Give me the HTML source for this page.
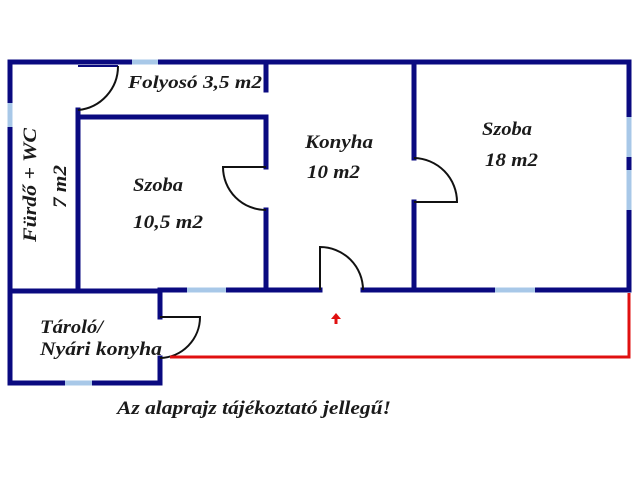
<!DOCTYPE html>
<html><head><meta charset="utf-8"><style>
html,body{margin:0;padding:0;background:#fff;width:640px;height:480px;overflow:hidden}
text{font-family:"Liberation Serif",serif;font-weight:bold;font-style:italic;fill:#1a1a1a}
</style></head><body>
<svg width="640" height="480" viewBox="0 0 640 480" xmlns="http://www.w3.org/2000/svg">
<g stroke="#0a0a80" stroke-width="5" fill="none" stroke-linecap="square">
<line x1="10" y1="62" x2="629" y2="62"/>
<line x1="10" y1="62" x2="10" y2="383"/>
<line x1="629" y1="62" x2="629" y2="290"/>
<line x1="10" y1="383" x2="160" y2="383"/>
<line x1="160" y1="358" x2="160" y2="383"/>
<line x1="160" y1="290" x2="160" y2="317"/>
<line x1="10" y1="291" x2="160" y2="291"/>
<line x1="160" y1="290" x2="320" y2="290"/>
<line x1="363" y1="290" x2="629" y2="290"/>
<line x1="78" y1="110" x2="78" y2="290"/>
<line x1="78" y1="117" x2="266" y2="117"/>
<line x1="266" y1="62" x2="266" y2="90"/>
<line x1="266" y1="117" x2="266" y2="167"/>
<line x1="266" y1="210" x2="266" y2="290"/>
<line x1="414" y1="62" x2="414" y2="158"/>
<line x1="414" y1="202" x2="414" y2="290"/>
</g>
<g stroke="#0a0a80" stroke-width="2">
<line x1="78" y1="66" x2="118" y2="66"/>
</g>
<g stroke="#a8c8e8" stroke-width="5">
<line x1="132" y1="62" x2="158" y2="62"/>
<line x1="10" y1="103" x2="10" y2="127"/>
<line x1="65" y1="383" x2="92" y2="383"/>
<line x1="187" y1="290" x2="226" y2="290"/>
<line x1="495" y1="290" x2="535" y2="290"/>
<line x1="629" y1="117" x2="629" y2="157"/>
<line x1="629" y1="170" x2="629" y2="210"/>
</g>
<g stroke="#111" stroke-width="2" fill="none">
<path d="M118 66 A44 44 0 0 1 78 110"/>
<path d="M266 167 L223 167 A43 43 0 0 0 266 210"/>
<path d="M414 158 A44 44 0 0 1 457 202 L414 202"/>
<path d="M320 290 L320 247 A43 43 0 0 1 363 290"/>
<path d="M160 317 L200 317 A41 41 0 0 1 160 358"/>
</g>
<polyline points="170,357 629,357 629,293" stroke="#e01010" stroke-width="3" fill="none"/>
<path d="M336 313 L331 319 L334.5 319 L334.5 324 L337.5 324 L337.5 319 L341 319 Z" fill="#e01010"/>
<text x="128" y="88" font-size="18" textLength="134" lengthAdjust="spacingAndGlyphs">Folyosó 3,5 m2</text>
<text x="133" y="191" font-size="19" textLength="50" lengthAdjust="spacingAndGlyphs">Szoba</text>
<text x="133" y="228" font-size="19" textLength="70" lengthAdjust="spacingAndGlyphs">10,5 m2</text>
<text x="305" y="148" font-size="19" textLength="68" lengthAdjust="spacingAndGlyphs">Konyha</text>
<text x="307" y="178" font-size="19" textLength="53" lengthAdjust="spacingAndGlyphs">10 m2</text>
<text x="482" y="135" font-size="19" textLength="50" lengthAdjust="spacingAndGlyphs">Szoba</text>
<text x="485" y="166" font-size="19" textLength="53" lengthAdjust="spacingAndGlyphs">18 m2</text>
<text transform="translate(36,242) rotate(-90)" font-size="19" textLength="114" lengthAdjust="spacingAndGlyphs">Fürdő + WC</text>
<text transform="translate(66,208) rotate(-90)" font-size="19" textLength="43" lengthAdjust="spacingAndGlyphs">7 m2</text>
<text x="40" y="333" font-size="19" textLength="63" lengthAdjust="spacingAndGlyphs">Tároló/</text>
<text x="40" y="355" font-size="19" textLength="122" lengthAdjust="spacingAndGlyphs">Nyári konyha</text>
<text x="117" y="414" font-size="19" textLength="274" lengthAdjust="spacingAndGlyphs">Az alaprajz tájékoztató jellegű!</text>
</svg>
</body></html>
